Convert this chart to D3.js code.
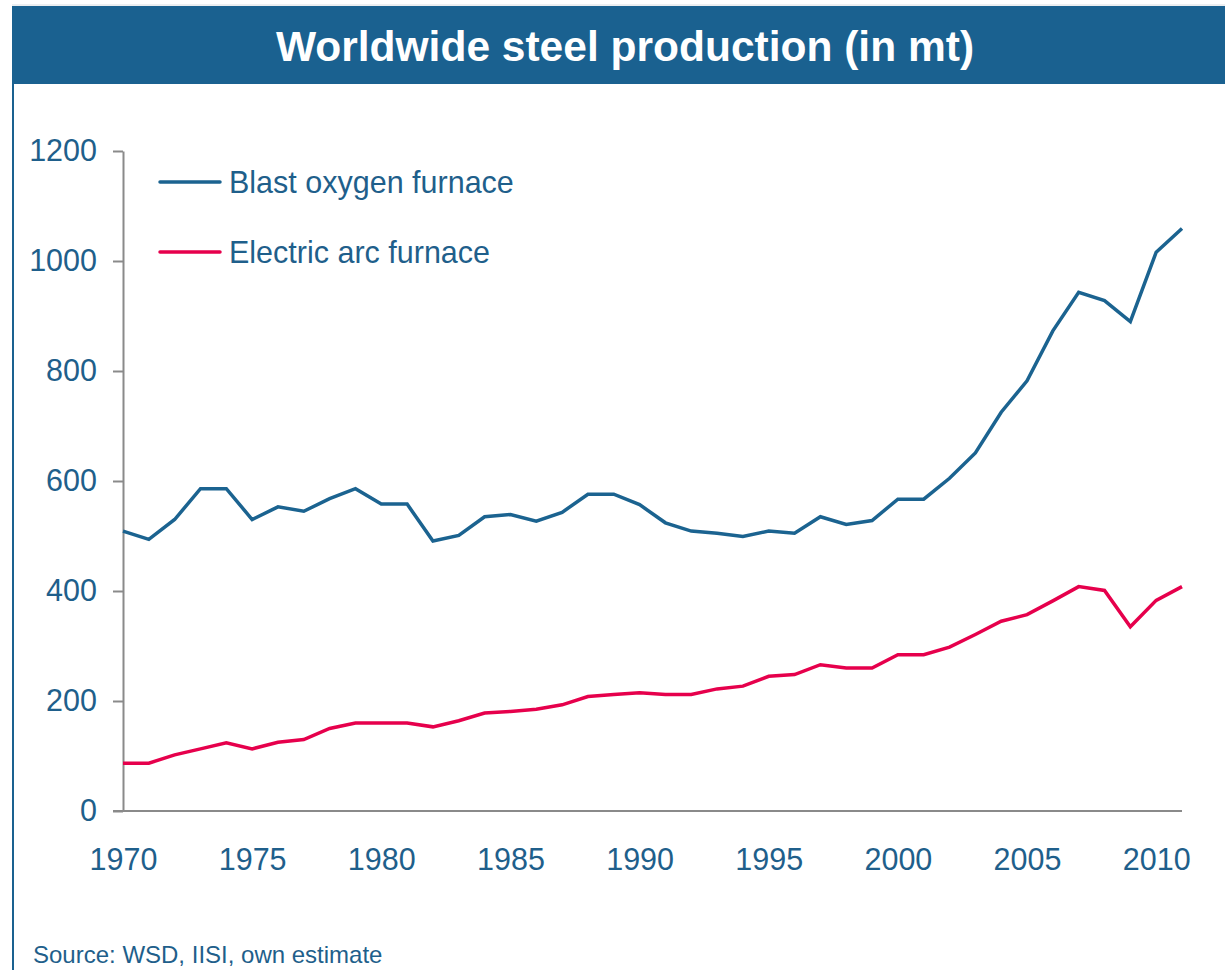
<!DOCTYPE html>
<html>
<head>
<meta charset="utf-8">
<script src="https://cdn.jsdelivr.net/npm/d3@7"></script>
<style>
  body { margin: 0; background: #fff; }
  svg { display: block; font-family: "Liberation Sans", Arial, sans-serif; }
</style>
</head>
<body>
<div class="steelChart"></div>
<script>
// Parameters
const width = 1225;
const height = 970;
const margin = { top: 151, right: 43, bottom: 159, left: 123 };

const blue = '#1b6390';
const pink = '#e6004c';
const axisGrey = '#8a8a8a';
const textBlue = '#1f5f8b';

// Data
const years = d3.range(1970, 2012);
const blastOxygen = [509, 494, 530, 586, 586, 530, 553, 545, 568, 586,
                     558, 558, 491, 501, 535, 539, 527, 543, 576, 576,
                     557, 524, 509, 505, 499, 509, 505, 535, 521, 528,
                     567, 567, 605, 651, 725, 782, 873, 943, 928, 890,
                     1016, 1059];
const electricArc = [87, 87, 102, 113, 124, 113, 125, 130, 150, 160,
                     160, 160, 153, 164, 178, 181, 185, 193, 208, 212,
                     215, 212, 212, 222, 227, 245, 248, 266, 260, 260,
                     284, 284, 298, 321, 345, 357, 382, 408, 401, 335,
                     383, 408];
const yTicks = [0, 200, 400, 600, 800, 1000, 1200];
const xTicks = [1970, 1975, 1980, 1985, 1990, 1995, 2000, 2005, 2010];
const seriesNames = ['Blast oxygen furnace', 'Electric arc furnace'];

const svg = d3.select('.steelChart')
    .append('svg')
    .attr('width', width)
    .attr('height', height);

// title bar + frame
svg.append('line')
    .attr('x1', 12).attr('x2', width)
    .attr('y1', 5).attr('y2', 5)
    .attr('stroke', '#d9dde2').attr('stroke-width', 1);
svg.append('rect')
    .attr('x', 12).attr('y', 6)
    .attr('width', width - 12).attr('height', 78)
    .attr('fill', '#1a6190');
svg.append('line')
    .attr('x1', 13).attr('x2', 13)
    .attr('y1', 84).attr('y2', height)
    .attr('stroke', '#1a6190').attr('stroke-width', 2);
svg.append('text')
    .attr('x', 625).attr('y', 61)
    .attr('text-anchor', 'middle')
    .attr('fill', '#fff')
    .style('font-size', '42.5px')
    .style('font-weight', 'bold')
    .text('Worldwide steel production (in mt)');

// scales
const x = d3.scaleLinear()
    .domain([1970, 2011])
    .range([margin.left, width - margin.right]);

const y = d3.scaleLinear()
    .domain([0, 1200])
    .range([height - margin.bottom, margin.top]);

// y axis
const yAxis = svg.append('g')
    .attr('transform', `translate(${margin.left},0)`)
    .call(d3.axisLeft(y).tickValues(yTicks).tickFormat(d3.format('d'))
        .tickSize(10).tickSizeOuter(0).tickPadding(16));
yAxis.select('.domain').attr('stroke', axisGrey).attr('stroke-width', 2);
yAxis.selectAll('.tick line').attr('stroke', axisGrey).attr('stroke-width', 2);
yAxis.selectAll('.tick text')
    .attr('fill', textBlue)
    .style('font-size', '30.5px')
    .style('font-family', '"Liberation Sans", Arial, sans-serif');

// x axis
const xAxis = svg.append('g')
    .attr('transform', `translate(0,${y(0)})`)
    .call(d3.axisBottom(x).tickValues(xTicks).tickSize(0).tickPadding(37).tickFormat(d3.format('d')));
xAxis.select('.domain').remove();
xAxis.append('line')
    .attr('x1', x(1970) - 10).attr('x2', x(2011))
    .attr('stroke', axisGrey).attr('stroke-width', 2);
xAxis.selectAll('.tick text')
    .attr('fill', textBlue)
    .style('font-size', '30.5px')
    .style('font-family', '"Liberation Sans", Arial, sans-serif');

// lines
const line = d3.line()
    .x((d, i) => x(years[i]))
    .y(d => y(d));

svg.append('path')
    .datum(electricArc)
    .attr('fill', 'none')
    .attr('stroke', pink)
    .attr('stroke-width', 3.5)
    .attr('stroke-linejoin', 'miter')
    .attr('d', line);

svg.append('path')
    .datum(blastOxygen)
    .attr('fill', 'none')
    .attr('stroke', blue)
    .attr('stroke-width', 3.5)
    .attr('stroke-linejoin', 'miter')
    .attr('d', line);

// legend
const legend = svg.append('g')
    .selectAll('g')
    .data(seriesNames)
    .join('g')
    .attr('transform', (d, i) => `translate(160, ${182 + i * 70})`);
legend.append('line')
    .attr('x1', 0).attr('x2', 60)
    .attr('stroke', (d, i) => i === 0 ? blue : pink)
    .attr('stroke-width', 3.5)
    .attr('stroke-linecap', 'round');
legend.append('text')
    .attr('x', 69).attr('y', 11)
    .attr('fill', textBlue)
    .style('font-size', '30.5px')
    .text(d => d);

// source
svg.append('text')
    .attr('x', 33).attr('y', 963)
    .attr('fill', textBlue)
    .style('font-size', '24px')
    .text('Source: WSD, IISI, own estimate');
</script>
</body>
</html>
